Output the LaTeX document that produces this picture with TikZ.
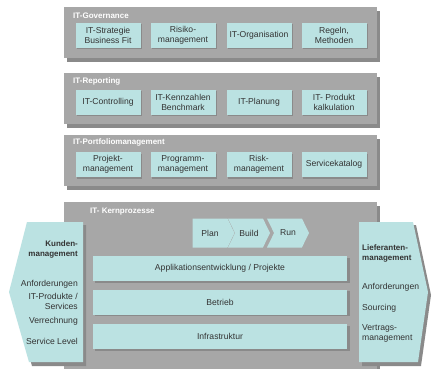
\documentclass[tikz,border=0pt]{standalone}
\usepackage{fontspec}
\setmainfont{Liberation Sans}
\usetikzlibrary{shapes.symbols}

\definecolor{panelgray}{HTML}{A7A7A7}
\definecolor{shadowgray}{HTML}{8A8A8A}
\definecolor{boxteal}{HTML}{BBE2E2}
\definecolor{textgray}{HTML}{333333}

\tikzset{
    panel/.style={fill=panelgray},
    panelshadow/.style={fill=shadowgray},
    paneltitle/.style={anchor=west, inner sep=0pt, text=white, font=\fontsize{8}{9}\selectfont\bfseries},
    itbox/.style={fill=boxteal, minimum width=65pt, minimum height=25pt, inner sep=1pt,
        align=center, text=textgray, font=\fontsize{8.6}{10}\selectfont},
    bar/.style={itbox, minimum width=254pt, minimum height=25pt},
    phase/.style={signal, signal to=east, fill=boxteal, minimum width=42pt, minimum height=29pt,
        signal pointer angle=128, inner sep=1pt, text=textgray, font=\fontsize{8.6}{10}\selectfont},
    sidetext/.style={inner sep=0pt, text=textgray, font=\fontsize{8.6}{10}\selectfont}
}

\begin{document}
\begin{tikzpicture}[x=1pt, y=-1pt]
    \useasboundingbox[fill=white] (0,0) rectangle (437,369);

    % gray panels with shadow
    \foreach \top/\bot in {7/58, 73/124, 135/186, 202/372} {
        \fill[panelshadow] (67,\top+4) rectangle (380,\bot+4);
        \fill[panel] (64,\top) rectangle (377,\bot);
    }
    \useasboundingbox (0,0) rectangle (437,369);

    \node[paneltitle] (govtitle) at (73,16) {IT-Governance};
    \node[paneltitle] (reptitle) at (73,81) {IT-Reporting};
    \node[paneltitle] (pfmtitle) at (73,142) {IT-Portfoliomanagement};
    \node[paneltitle] (kerntitle) at (90,212) {IT- Kernprozesse};

    % box shadows
    \foreach \y in {35.5, 102.5, 164.5} {
        \foreach \x in {108, 183, 259, 334} {
            \fill[shadowgray] (\x-31,\y-11) rectangle (\x+34,\y+14);
        }
    }

    % IT-Governance
    \node[itbox] (strategie) at (108,35.5) {IT-Strategie\\Business Fit};
    \node[itbox] (risiko) at (183,35.5) {Risiko-\\management};
    \node[itbox] (organisation) at (259,35.5) {IT-Organisation};
    \node[itbox] (regeln) at (334,35.5) {Regeln,\\Methoden};

    % IT-Reporting
    \node[itbox] (controlling) at (108,102.5) {IT-Controlling};
    \node[itbox] (kennzahlen) at (183,102.5) {IT-Kennzahlen\\Benchmark};
    \node[itbox] (planung) at (259,102.5) {IT-Planung};
    \node[itbox] (kalkulation) at (334,102.5) {IT- Produkt\\kalkulation};

    % IT-Portfoliomanagement
    \node[itbox] (projekt) at (108,164.5) {Projekt-\\management};
    \node[itbox] (programm) at (183,164.5) {Programm-\\management};
    \node[itbox] (risk) at (259,164.5) {Risk-\\management};
    \node[itbox] (katalog) at (334,164.5) {Servicekatalog};

    % IT-Kernprozesse
    \foreach \y in {268.5, 302, 336.5} {
        \fill[shadowgray] (95,\y-11) rectangle (350,\y+14);
    }
    \node[bar] (applikation) at (220,268.5) {Applikationsentwicklung / Projekte};
    \node[bar] (betrieb) at (220,302) {Betrieb};
    \node[bar] (infra) at (220,336.5) {Infrastruktur};

    \node[phase] (plan) at (210,233) {Plan};
    \node[phase, signal from=west] (build) at (249,233) {Build};
    \node[phase, signal from=west] (run) at (288,233) {Run};

    % Kundenmanagement
    \fill[shadowgray] (30,225) -- (86,225) -- (86,366) -- (32,366) -- (12,295) -- cycle;
    \fill[boxteal] (27,222) -- (83,222) -- (83,362) -- (29,362) -- (9,292) -- cycle;
    \node[sidetext, anchor=east, align=right, font=\fontsize{8}{10}\selectfont\bfseries] (kunden) at (78,249) {Kunden-\\management};
    \node[sidetext, anchor=east] (kanf) at (78,284) {Anforderungen};
    \node[sidetext, anchor=east, align=right] (produkte) at (78,301.5) {IT-Produkte /\\Services};
    \node[sidetext, anchor=east] (verrechnung) at (78,321) {Verrechnung};
    \node[sidetext, anchor=east] (level) at (78,341) {Service Level};

    % Lieferantenmanagement
    \fill[shadowgray] (362,225) -- (416,225) -- (431,295) -- (421,366) -- (362,366) -- cycle;
    \fill[boxteal] (359,222) -- (413,222) -- (428,292) -- (418,362) -- (359,362) -- cycle;
    \node[sidetext, anchor=west, align=left, font=\fontsize{8}{10}\selectfont\bfseries] (lieferanten) at (362,253) {Lieferanten-\\management};
    \node[sidetext, anchor=west] (lanf) at (362,287) {Anforderungen};
    \node[sidetext, anchor=west] (sourcing) at (362,308) {Sourcing};
    \node[sidetext, anchor=west, align=left] (vertrag) at (362,333) {Vertrags-\\management};
\end{tikzpicture}
\end{document}
